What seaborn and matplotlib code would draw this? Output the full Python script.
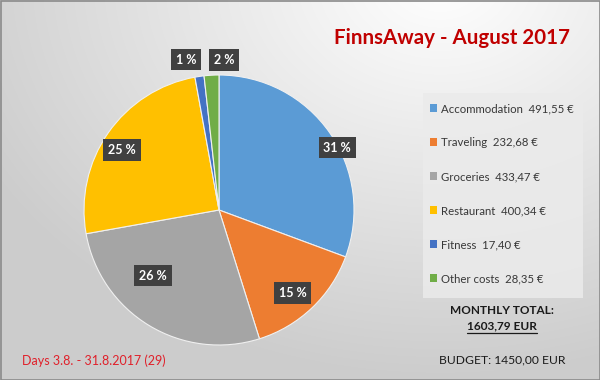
import numpy as np
import matplotlib
matplotlib.use("Agg")
import matplotlib.pyplot as plt
import seaborn as sns
from matplotlib.patches import Rectangle

categories = ["Accommodation", "Traveling", "Groceries", "Restaurant", "Fitness", "Other costs"]
amounts = [491.55, 232.68, 433.47, 400.34, 17.40, 28.35]
amount_labels = ["491,55 €", "232,68 €", "433,47 €", "400,34 €", "17,40 €", "28,35 €"]
pct_labels = ["31 %", "15 %", "26 %", "25 %", "1 %", "2 %"]
title = "FinnsAway - August 2017"
total_label = "1603,79 EUR"
budget_label = "BUDGET: 1450,00 EUR"
days_label = "Days 3.8. - 31.8.2017 (29)"

colors = ["#5B9BD5", "#ED7D31", "#A5A5A5", "#FFC000", "#4472C4", "#70AD47"]
# label layout: (radial distance, angle offset in degrees)
label_layout = [(0.99, -7), (0.82, -2), (0.69, -14), (0.845, 3), (1.14, 4), (1.11, -5)]

sns.set_theme(style="white")
plt.rcParams["font.family"] = ["Lato", "DejaVu Sans"]

fig = plt.figure(figsize=(6, 3.8), dpi=100)

# background gradient
bg = fig.add_axes([0, 0, 1, 1])
W, H = 600, 380
yy, xx = np.mgrid[0:H, 0:W]
d = np.sqrt(((xx - 440) / 1.0) ** 2 + ((yy + 20) * 1.3) ** 2)
v = 1.0 - 0.20 * np.clip(d / 520, 0, 1) ** 1.0
img = np.dstack([v, v, v])
bg.imshow(img, extent=[0, W, H, 0], aspect="auto")
bg.set_xlim(0, W)
bg.set_ylim(H, 0)
bg.axis("off")
bg.add_patch(Rectangle((0.5, 0.5), W - 1, H - 1, fill=False, edgecolor="#8a8a8a", lw=1.2))
# legend panel
bg.add_patch(Rectangle((423, 93), 160, 205, fc="#ebebeb", ec="none", alpha=0.85))

# pie
cx, cy, r = 219, 210, 135
ax = fig.add_axes([(cx - r) / W, (H - cy - r) / H, 2 * r / W, 2 * r / H])
wedges, _ = ax.pie(amounts, colors=colors, startangle=90, counterclock=False,
                   radius=1, wedgeprops=dict(edgecolor="#f0f0f0", linewidth=0.8))
ax.set_xlim(-1, 1)
ax.set_ylim(-1, 1)
ax.set_aspect("auto")
ax.axis("off")

for w, lab, (rd, off) in zip(wedges, pct_labels, label_layout):
    mid = np.deg2rad((w.theta1 + w.theta2) / 2 + off)
    ax.text(rd * np.cos(mid), rd * np.sin(mid), lab, ha="center", va="center",
            color="white", fontsize=9, fontweight="bold", clip_on=False,
            bbox=dict(boxstyle="square,pad=0.38", fc="#404040", ec="none"))

# title
fig.text(452 / W, 1 - 38 / H, title, ha="center", va="center", color="#C00000",
         fontsize=14.8, fontweight="bold")

# legend
labels = [f"{c}  {a}" for c, a in zip(categories, amount_labels)]
handles = [Rectangle((0, 0), 1, 1, fc=c, ec="none") for c in colors]
leg = fig.legend(handles, labels, loc="upper left",
                 bbox_to_anchor=(430 / W, 1 - 103 / H), frameon=False,
                 fontsize=8.2, labelspacing=2.02, handlelength=0.6, handleheight=0.6,
                 handletextpad=0.35, borderpad=0.0, borderaxespad=0,
                 labelcolor="#383838")

# totals
fig.text(502 / W, 1 - 310 / H, "MONTHLY TOTAL:", ha="center", va="center",
         fontsize=8.5, fontweight="bold", color="#1a1a1a")
t = fig.text(502 / W, 1 - 326 / H, total_label, ha="center", va="center",
             fontsize=8.5, fontweight="bold", color="#1a1a1a")
fig.canvas.draw()
bb = t.get_window_extent()
fig.add_artist(plt.Line2D([bb.x0 / W, bb.x1 / W], [(bb.y0 - 1) / H, (bb.y0 - 1) / H],
                          color="#1a1a1a", lw=0.9))
fig.text(502 / W, 1 - 360 / H, budget_label, ha="center", va="center",
         fontsize=8.7, color="#1a1a1a")
fig.text(22 / W, 1 - 361 / H, days_label, ha="left", va="center",
         fontsize=9, color="#E0202A")

fig.savefig("out.png", dpi=100)
